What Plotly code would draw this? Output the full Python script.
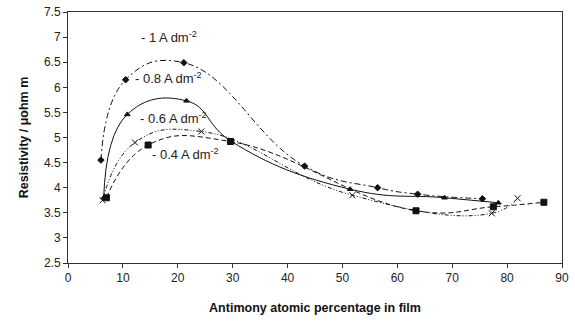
import plotly.graph_objects as go

# Data
x_1A = [6.0, 10.5, 21.1, 43.1, 56.4, 63.7, 75.5]
y_1A = [4.55, 6.15, 6.49, 4.43, 4.00, 3.87, 3.78]

x_08A = [6.5, 10.8, 21.6, 29.8, 51.4, 68.6, 78.4]
y_08A = [3.80, 5.46, 5.73, 4.92, 3.97, 3.80, 3.70]

x_06A = [6.3, 12.2, 24.3, 51.8, 77.2, 81.9]
y_06A = [3.75, 4.90, 5.12, 3.85, 3.49, 3.79]

x_04A = [7.0, 14.6, 29.6, 63.4, 77.5, 86.7]
y_04A = [3.80, 4.85, 4.92, 3.54, 3.62, 3.71]

labels = ["- 1 A dm<sup>-2</sup>", "- 0.8 A dm<sup>-2</sup>",
          "- 0.6 A dm<sup>-2</sup>", "- 0.4 A dm<sup>-2</sup>"]
label_x = [12.9, 11.8, 12.7, 14.9]
label_y = [7.0, 6.18, 5.39, 4.67]

x_ticks = [0, 10, 20, 30, 40, 50, 60, 70, 80, 90]
y_ticks = [2.5, 3, 3.5, 4, 4.5, 5, 5.5, 6, 6.5, 7, 7.5]

C = "#111111"
fig = go.Figure()

series = [
    (x_1A, y_1A, "6px,3px,2px,3px", "diamond", 5),
    (x_08A, y_08A, "solid", "triangle-up", 5),
    (x_06A, y_06A, "4px,2px,1px,2px,1px,2px", "x-thin-open", 6),
    (x_04A, y_04A, "5px,3px", "square", 6),
]
for xs, ys, dash, sym, sz in series:
    fig.add_trace(go.Scatter(
        x=xs, y=ys, mode="lines+markers",
        line=dict(color=C, width=1, dash=dash, shape="spline", smoothing=1.3),
        marker=dict(symbol=sym, size=sz, color=C, line=dict(color=C, width=1)),
        showlegend=False,
    ))

for t, lx, ly in zip(labels, label_x, label_y):
    fig.add_annotation(x=lx, y=ly, text=t, showarrow=False, xanchor="left",
                       yanchor="middle", font=dict(size=13, color="#222"))

axis_common = dict(showline=True, linecolor="#333", linewidth=1, mirror=True,
                   showgrid=False, zeroline=False, ticks="outside", ticklen=4,
                   tickcolor="#333", automargin=False,
                   tickfont=dict(size=12, color="#222",
                                 family="Liberation Sans, Arial"))
fig.update_xaxes(range=[0, 90], tickvals=x_ticks, **axis_common,
                 title=dict(text="<b>Antimony atomic percentage in film</b>",
                            font=dict(size=12.5, color="#111"), standoff=18))
fig.update_yaxes(range=[2.5, 7.5], tickvals=y_ticks, **axis_common,
                 title=dict(text="<b>Resistivity / μohm m</b>",
                            font=dict(size=12.5, color="#111"), standoff=12))

fig.update_layout(width=575, height=324, margin=dict(l=68, r=13, t=12, b=61),
                  paper_bgcolor="white", plot_bgcolor="white",
                  font=dict(family="Liberation Sans, Arial"))
fig.write_html("out.html")
